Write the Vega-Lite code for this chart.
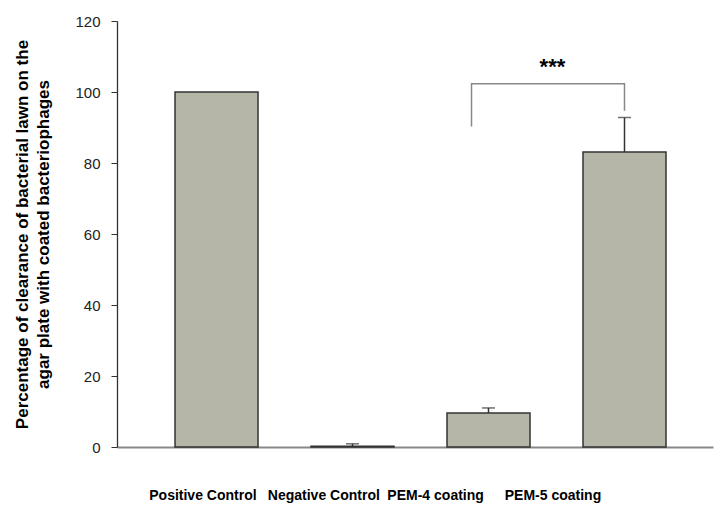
{
  "$schema": "https://vega.github.io/schema/vega-lite/v6.json",
  "width": 596,
  "height": 426,
  "autosize": {"type": "none"},
  "padding": {"left": 117, "top": 21, "right": 1, "bottom": 58},
  "background": "white",
  "config": {"view": {"stroke": null}, "font": "Liberation Sans"},
  "datasets": {
    "bars": [
      {"group": "Positive Control", "pos": 1, "value": 100, "upper": null},
      {"group": "Negative Control", "pos": 2, "value": 0.2, "upper": 0.9},
      {"group": "PEM-4 coating", "pos": 3, "value": 9.6, "upper": 11.0},
      {"group": "PEM-5 coating", "pos": 4, "value": 83.1, "upper": 92.8}
    ],
    "labels": [
      {"group": "Positive Control", "pos": 0.9, "value": -13.9},
      {"group": "Negative Control", "pos": 1.789, "value": -13.9},
      {"group": "PEM-4 coating", "pos": 2.611, "value": -13.9},
      {"group": "PEM-5 coating", "pos": 3.474, "value": -13.9}
    ],
    "bracket": [
      {"order": 1, "pos": 2.875, "value": 90.3},
      {"order": 2, "pos": 2.875, "value": 102.3},
      {"order": 3, "pos": 4.0, "value": 102.3},
      {"order": 4, "pos": 4.0, "value": 94.7}
    ],
    "sig": [{"pos": 3.47, "value": 105, "label": "***"}]
  },
  "encoding": {
    "x": {
      "field": "pos",
      "type": "quantitative",
      "scale": {"domain": [0.305, 4.614], "nice": false, "zero": false},
      "axis": {
        "title": null,
        "ticks": false,
        "labels": false,
        "grid": false,
        "domainColor": "#888",
        "domainWidth": 2
      }
    },
    "y": {
      "field": "value",
      "type": "quantitative",
      "scale": {"domain": [0, 120], "nice": false},
      "axis": {
        "values": [0, 20, 40, 60, 80, 100, 120],
        "title": ["Percentage of clearance of bacterial lawn on the", "agar plate with coated bacteriophages"],
        "titleFont": "Liberation Sans",
        "titleFontSize": 17,
        "titleFontWeight": "bold",
        "titleColor": "#000",
        "titleLineHeight": 21,
        "titlePadding": 22,
        "grid": false,
        "tickSize": 6,
        "tickColor": "#333",
        "domainColor": "#333",
        "domainWidth": 1.3,
        "labelFont": "Liberation Sans",
        "labelFontSize": 15,
        "labelColor": "#222",
        "labelPadding": 11,
        "labelFlush": false
      }
    }
  },
  "layer": [
    {
      "data": {"name": "bars"},
      "mark": {"type": "bar", "width": 83, "fill": "#b5b5a8", "stroke": "#333", "strokeWidth": 1.5}
    },
    {
      "data": {"name": "bars"},
      "transform": [{"filter": "datum.upper != null"}],
      "mark": {"type": "rule", "color": "#333", "strokeWidth": 1.5},
      "encoding": {"y2": {"field": "upper"}}
    },
    {
      "data": {"name": "bars"},
      "transform": [{"filter": "datum.upper != null"}],
      "mark": {"type": "tick", "orient": "horizontal", "size": 13, "thickness": 1.5, "color": "#333"},
      "encoding": {"y": {"field": "upper", "type": "quantitative"}}
    },
    {
      "data": {"name": "bracket"},
      "mark": {"type": "line", "color": "#888", "strokeWidth": 1.5},
      "encoding": {"order": {"field": "order", "type": "quantitative"}}
    },
    {
      "data": {"name": "sig"},
      "mark": {"type": "text", "fontSize": 22, "fontWeight": "bold", "baseline": "alphabetic", "align": "center", "color": "#000", "font": "Liberation Sans"},
      "encoding": {"text": {"field": "label"}}
    },
    {
      "data": {"name": "labels"},
      "mark": {"type": "text", "fontSize": 14, "fontWeight": "bold", "baseline": "middle", "align": "center", "color": "#000", "font": "Liberation Sans"},
      "encoding": {"text": {"field": "group"}}
    }
  ]
}
